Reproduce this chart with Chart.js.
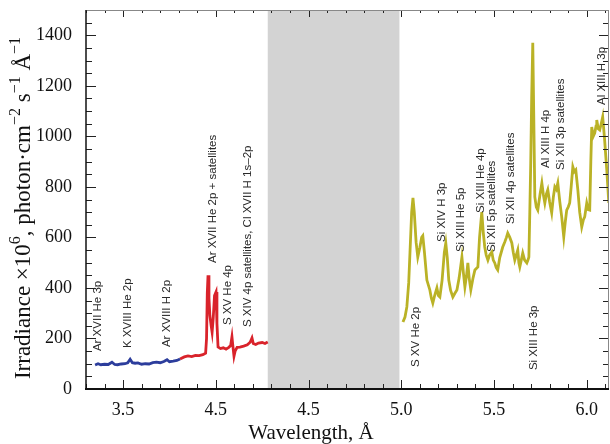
<!DOCTYPE html>
<html>
<head>
<meta charset="utf-8">
<script src="https://cdn.jsdelivr.net/npm/chart.js@4.4.1/dist/chart.umd.min.js"></script>
<style>
  html, body { margin: 0; padding: 0; background: #fff; }
  #wrap { width: 610px; height: 444px; }
</style>
</head>
<body>
<div id="wrap"><canvas id="spectrum" width="610" height="444"></canvas></div>
<script>
"use strict";

// Spektrum, blå del (Å, irradians)
const blueWavelength = [3.349, 3.365, 3.38, 3.40, 3.42, 3.44, 3.455, 3.47, 3.49, 3.51, 3.525, 3.538, 3.55, 3.565,
    3.58, 3.60, 3.62, 3.64, 3.66, 3.68, 3.70, 3.72, 3.737, 3.75, 3.77, 3.79, 3.807];
const blueIrradiance = [95, 100, 96, 98, 97, 106, 97, 96, 99, 100, 104, 118, 104, 102,
    103, 98, 100, 99, 104, 106, 104, 109, 116, 108, 110, 113, 119];

// Röd del
const redWavelength = [3.807, 3.83, 3.85, 3.87, 3.89, 3.91, 3.93, 3.945, 3.950, 3.954, 3.958, 3.963, 3.968, 3.975,
    3.980, 3.986, 3.993, 4.001, 4.006, 4.012, 4.025, 4.04, 4.055, 4.07, 4.08, 4.087, 4.092, 4.098, 4.104,
    4.115, 4.13, 4.15, 4.17, 4.185, 4.195, 4.202, 4.215, 4.23, 4.25, 4.265, 4.28];
const redIrradiance = [119, 127, 131, 128, 133, 132, 136, 142, 200, 380, 450, 360, 290, 250,
    225, 280, 370, 384, 260, 166, 160, 163, 158, 165, 172, 206, 170, 130, 150,
    165, 166, 170, 175, 185, 202, 180, 176, 182, 184, 180, 186];

// Gul del
const yellowWavelength = [5.009, 5.020, 5.030, 5.040, 5.048, 5.056, 5.063, 5.070, 5.080, 5.089, 5.100, 5.110, 5.116,
    5.125, 5.138, 5.154, 5.162, 5.170, 5.180, 5.192, 5.200, 5.208, 5.220, 5.232, 5.240, 5.248, 5.256, 5.266,
    5.278, 5.290, 5.300, 5.312, 5.327, 5.335, 5.343, 5.352, 5.359, 5.366, 5.375, 5.387, 5.397, 5.413, 5.422,
    5.434, 5.442, 5.450, 5.458, 5.467, 5.476, 5.488, 5.496, 5.504, 5.512, 5.520, 5.531, 5.547, 5.558, 5.567,
    5.574, 5.585, 5.596, 5.604, 5.612, 5.620, 5.628, 5.634, 5.639, 5.647, 5.655, 5.665, 5.677, 5.683, 5.688,
    5.693, 5.698, 5.703, 5.709, 5.714, 5.720, 5.728, 5.736, 5.748, 5.758, 5.766, 5.774, 5.782, 5.790, 5.800,
    5.811, 5.820, 5.828, 5.836, 5.844, 5.855, 5.865, 5.876, 5.884, 5.892, 5.900, 5.908, 5.916, 5.925, 5.933,
    5.941, 5.952, 5.962, 5.973, 5.982, 5.989, 6.000, 6.008, 6.016, 6.022, 6.027, 6.035, 6.043, 6.050, 6.054,
    6.062, 6.070, 6.078, 6.086, 6.095, 6.108, 6.119];
const yellowIrradiance = [265, 285, 325, 420, 560, 700, 756, 700, 580, 522, 560, 600, 606,
    540, 431, 392, 360, 340, 370, 400, 370, 364, 430, 540, 578, 520, 431, 390,
    364, 380, 392, 440, 522, 460, 404, 450, 499, 440, 392, 440, 471, 483, 600,
    700, 620, 562, 530, 510, 530, 542, 510, 499, 480, 471, 520, 562, 582, 600,
    617, 600, 578, 540, 510, 530, 550, 500, 483, 510, 538, 510, 499, 510, 522,
    700, 894, 1150, 1370, 1100, 760, 720, 708, 770, 815, 770, 736, 770, 788, 740,
    697, 760, 800, 790, 815, 740, 681, 602, 660, 708, 720, 736, 800, 879, 860,
    867, 788, 700, 641, 670, 681, 736, 710, 708, 900, 1037, 1000, 1013, 1040, 1065,
    1030, 1025, 1050, 1077, 1000, 867, 736];

// Axlar och tickar
const xTickValues = [3.5, 4.0, 4.5, 5.0, 5.5, 6.0];
const xTickLabels = ['3.5', '4.5', '4.5', '5.0', '5.5', '6.0'];
const yTickValues = [0, 200, 400, 600, 800, 1000, 1200, 1400];
const gapRange = [4.28, 4.99];

// Linjeidentifieringar
const lineLabels = ['Ar XVII He 3p', 'K XVIII He 2p', 'Ar XVIII H 2p', 'Ar XVII He 2p + satellites', 'S XV He 4p',
    'S XIV 4p satellites, Cl XVII H 1s\u20132p', 'S XV He 2p', 'Si XIV H 3p', 'Si XIII He 5p', 'Si XIII He 4p',
    'Si XII 5p satellites', 'Si XII 4p satellites', 'Si XIII He 3p', 'Al XIII H 4p', 'Si XII 3p satellites', 'Al XIII H 3p'];
const lineLabelWavelength = [3.365, 3.527, 3.737, 3.985, 4.066, 4.173, 5.079, 5.219, 5.321, 5.429,
    5.488, 5.591, 5.714, 5.779, 5.860, 6.081];
const lineLabelBase = [150, 162, 166, 499, 253, 245, 87, 582, 542, 697, 542, 653, 75, 875, 867, 1124];

function toPoints(xs, ys) {
    return xs.map((x, i) => ({ x: x, y: ys[i] }));
}

// Plugin för grått fält, ram, inåtriktade tickar, etiketter och y-titel
const spectrumDecor = {
    id: 'spectrumDecor',
    beforeDatasetsDraw(chart) {
        const { ctx, chartArea, scales } = chart;
        const x0 = scales.x.getPixelForValue(gapRange[0]);
        const x1 = scales.x.getPixelForValue(gapRange[1]);
        ctx.save();
        ctx.fillStyle = '#d3d3d3';
        ctx.fillRect(x0, chartArea.top, x1 - x0, chartArea.bottom - chartArea.top);
        ctx.restore();
    },
    afterDatasetsDraw(chart) {
        const { ctx, chartArea: a, scales } = chart;
        const xs = scales.x, ys = scales.y;
        ctx.save();

        // Tickar på x-axeln (var 0.1 Å, stora var 0.5 Å)
        ctx.strokeStyle = '#222';
        ctx.lineWidth = 1;
        for (let i = 33; i <= 61; i++) {
            const px = Math.round(xs.getPixelForValue(i / 10)) + 0.5;
            const len = (i % 5 === 0) ? 9 : 5;
            ctx.beginPath();
            ctx.moveTo(px, a.bottom); ctx.lineTo(px, a.bottom - len);
            ctx.moveTo(px, a.top); ctx.lineTo(px, a.top + len - 2);
            ctx.stroke();
        }
        // Tickar på y-axeln (var 50, stora var 200)
        for (let v = 50; v <= 1450; v += 50) {
            const py = Math.round(ys.getPixelForValue(v)) + 0.5;
            const len = (v % 200 === 0) ? 10 : 6;
            ctx.beginPath();
            ctx.moveTo(a.left, py); ctx.lineTo(a.left + len, py);
            ctx.moveTo(a.right, py); ctx.lineTo(a.right - len, py);
            ctx.stroke();
        }

        // Ram
        ctx.strokeStyle = '#888';
        ctx.lineWidth = 1;
        ctx.beginPath();
        ctx.moveTo(a.left, a.top + 0.5); ctx.lineTo(a.right, a.top + 0.5);
        ctx.moveTo(a.right - 0.5, a.top); ctx.lineTo(a.right - 0.5, a.bottom);
        ctx.stroke();
        ctx.strokeStyle = '#111';
        ctx.lineWidth = 2;
        ctx.beginPath();
        ctx.moveTo(a.left - 1, a.bottom); ctx.lineTo(a.right, a.bottom);
        ctx.stroke();
        ctx.lineWidth = 1.5;
        ctx.beginPath();
        ctx.moveTo(a.left, a.top); ctx.lineTo(a.left, a.bottom);
        ctx.stroke();

        // Roterade linjeetiketter
        ctx.fillStyle = '#2a2a2a';
        ctx.font = '11.5px "Liberation Sans", Arial, sans-serif';
        ctx.textAlign = 'left';
        ctx.textBaseline = 'middle';
        lineLabels.forEach((label, i) => {
            const px = xs.getPixelForValue(lineLabelWavelength[i]);
            const py = ys.getPixelForValue(lineLabelBase[i]);
            ctx.save();
            ctx.translate(px, py);
            ctx.rotate(-Math.PI / 2);
            ctx.fillText(label, 0, 0);
            ctx.restore();
        });

        // Y-titel med upphöjda tecken
        const parts = [
            ['Irradiance \u00d710', false], ['6', true], [', photon\u00b7cm', false], ['\u22122', true],
            [' s', false], ['\u22121', true], [' \u00c5', false], ['\u22121', true]
        ];
        const big = '23px "Liberation Serif", "Times New Roman", serif';
        const small = '16px "Liberation Serif", "Times New Roman", serif';
        let total = 0;
        parts.forEach(p => { ctx.font = p[1] ? small : big; total += ctx.measureText(p[0]).width; });
        ctx.save();
        ctx.translate(30, 208 + total / 2);
        ctx.rotate(-Math.PI / 2);
        ctx.fillStyle = '#111';
        ctx.textAlign = 'left';
        ctx.textBaseline = 'alphabetic';
        let cx = 0;
        parts.forEach(p => {
            ctx.font = p[1] ? small : big;
            ctx.fillText(p[0], cx, p[1] ? -10 : 0);
            cx += ctx.measureText(p[0]).width;
        });
        ctx.restore();

        // X-titel
        ctx.font = '21px "Liberation Serif", "Times New Roman", serif';
        ctx.fillStyle = '#111';
        ctx.textAlign = 'center';
        ctx.textBaseline = 'alphabetic';
        ctx.fillText('Wavelength, \u00c5', 311, 439);

        ctx.restore();
    }
};

const lineStyle = { borderWidth: 2.8, pointRadius: 0, tension: 0, fill: false };

new Chart(document.getElementById('spectrum'), {
    type: 'line',
    data: {
        datasets: [
            Object.assign({ data: toPoints(blueWavelength, blueIrradiance), borderColor: '#2c3d9c' }, lineStyle),
            Object.assign({ data: toPoints(redWavelength, redIrradiance), borderColor: '#d9232b' }, lineStyle),
            Object.assign({ data: toPoints(yellowWavelength, yellowIrradiance), borderColor: '#bab226' }, lineStyle)
        ]
    },
    options: {
        responsive: false,
        animation: false,
        layout: { padding: { left: 0, right: 1, top: 10, bottom: 0 } },
        plugins: {
            legend: { display: false },
            tooltip: { enabled: false }
        },
        scales: {
            x: {
                type: 'linear',
                min: 3.30,
                max: 6.12,
                afterBuildTicks: scale => { scale.ticks = xTickValues.map(v => ({ value: v })); },
                afterFit: scale => { scale.height = 55; scale.paddingLeft = 0; scale.paddingRight = 0; },
                grid: { display: false, drawTicks: false },
                border: { display: false },
                ticks: {
                    padding: 10,
                    color: '#111',
                    font: { family: '"Liberation Serif", serif', size: 18 },
                    callback: (value, index) => xTickLabels[index]
                }
            },
            y: {
                type: 'linear',
                min: 0,
                max: 1500,
                afterBuildTicks: scale => { scale.ticks = yTickValues.map(v => ({ value: v })); },
                afterFit: scale => { scale.width = 86; scale.paddingTop = 0; scale.paddingBottom = 0; },
                grid: { display: false, drawTicks: false },
                border: { display: false },
                ticks: {
                    padding: 14,
                    color: '#111',
                    font: { family: '"Liberation Serif", serif', size: 18 },
                    callback: value => String(value)
                }
            }
        }
    },
    plugins: [spectrumDecor]
});
</script>
</body>
</html>
